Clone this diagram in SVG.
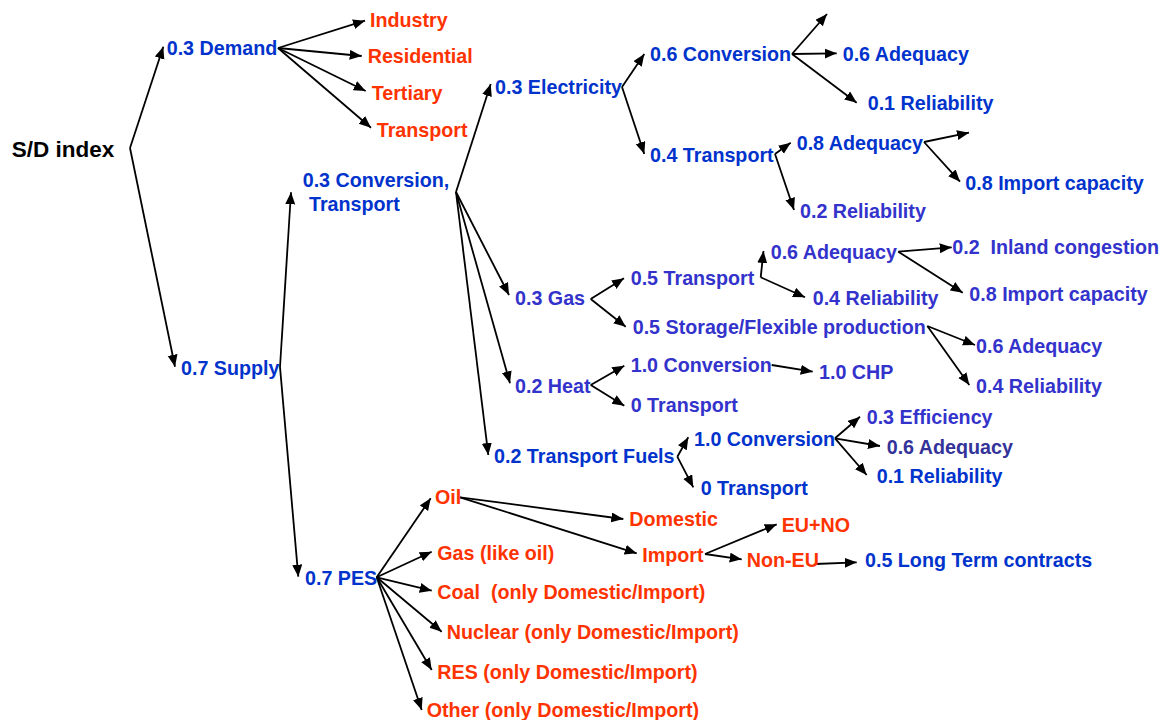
<svg xmlns="http://www.w3.org/2000/svg" width="1163" height="720" viewBox="0 0 1163 720">
<style>
text{font-family:"Liberation Sans",Arial,sans-serif;font-weight:bold;font-size:19.7px;white-space:pre}
.o{fill:#FF3300}.b{fill:#0033CC}.p{fill:#3333CC}.d{fill:#333399}
.k{fill:#000;font-size:22.5px}
#connectors line{stroke:#000;stroke-width:1.8;marker-end:url(#ah)}
</style>
<defs>
<marker id="ah" markerUnits="userSpaceOnUse" markerWidth="13" markerHeight="11" refX="12" refY="5" orient="auto">
<path d="M0,0 L12,5 L0,10 z" fill="#000"/>
</marker>
</defs>
<rect width="1163" height="720" fill="#fff"/>
<g id="connectors">
<line x1="130" y1="148" x2="163.3" y2="46.7"/>
<line x1="130" y1="148" x2="175" y2="366.7"/>
<line x1="278" y1="48" x2="365" y2="20.7"/>
<line x1="278" y1="48" x2="361.7" y2="56"/>
<line x1="278" y1="48" x2="365.7" y2="91"/>
<line x1="278" y1="48" x2="371" y2="127.7"/>
<line x1="280" y1="367" x2="291" y2="192.3"/>
<line x1="280" y1="367" x2="298.3" y2="576.7"/>
<line x1="456" y1="192" x2="490.7" y2="84"/>
<line x1="456" y1="192" x2="509" y2="295"/>
<line x1="456" y1="192" x2="510" y2="383.3"/>
<line x1="456" y1="192" x2="488.3" y2="455"/>
<line x1="622" y1="87" x2="644.3" y2="54"/>
<line x1="622" y1="87" x2="644.3" y2="154"/>
<line x1="792" y1="54" x2="827" y2="14"/>
<line x1="792" y1="54" x2="836.7" y2="53.3"/>
<line x1="792" y1="54" x2="856.7" y2="102.7"/>
<line x1="775" y1="154" x2="790.7" y2="142.7"/>
<line x1="775" y1="154" x2="794" y2="210"/>
<line x1="924" y1="142" x2="969" y2="132.7"/>
<line x1="924" y1="142" x2="960" y2="181.7"/>
<line x1="590.7" y1="299" x2="624" y2="278.3"/>
<line x1="590.7" y1="299" x2="625.7" y2="326.7"/>
<line x1="760.7" y1="277.3" x2="763.5" y2="251"/>
<line x1="760.7" y1="277.3" x2="805" y2="297.3"/>
<line x1="898.3" y1="251.7" x2="951.7" y2="247.3"/>
<line x1="898.3" y1="251.7" x2="962.7" y2="292.7"/>
<line x1="927.3" y1="326" x2="975" y2="345"/>
<line x1="927.3" y1="326" x2="969.3" y2="385"/>
<line x1="590.7" y1="385" x2="624.3" y2="365.7"/>
<line x1="590.7" y1="385" x2="624.3" y2="405.7"/>
<line x1="771.7" y1="365" x2="812.7" y2="371.7"/>
<line x1="677.3" y1="456.7" x2="688.3" y2="437.3"/>
<line x1="677.3" y1="456.7" x2="693.3" y2="487.3"/>
<line x1="835" y1="438.3" x2="860" y2="416.7"/>
<line x1="835" y1="438.3" x2="880" y2="446"/>
<line x1="835" y1="438.3" x2="866.7" y2="475"/>
<line x1="376.7" y1="577.3" x2="430.7" y2="498.3"/>
<line x1="376.7" y1="577.3" x2="431.7" y2="551.7"/>
<line x1="376.7" y1="577.3" x2="431.7" y2="590.7"/>
<line x1="376.7" y1="577.3" x2="441.7" y2="631.7"/>
<line x1="376.7" y1="577.3" x2="431.7" y2="670"/>
<line x1="376.7" y1="577.3" x2="421.7" y2="710"/>
<line x1="460" y1="497.3" x2="623.3" y2="519"/>
<line x1="460" y1="497.3" x2="636.7" y2="553.3"/>
<line x1="705" y1="554" x2="776.7" y2="524.3"/>
<line x1="705" y1="554" x2="741.7" y2="559.3"/>
<line x1="815" y1="564" x2="856.7" y2="562.3"/>
</g>
<g id="n-sd"><text class="k" x="11.7" y="156.7">S/D index</text></g>
<g id="n-demand"><text class="b" x="166.7" y="55">0.3 Demand</text></g>
<g id="n-industry"><text class="o" x="370" y="27.3">Industry</text></g>
<g id="n-residential"><text class="o" x="367.7" y="63">Residential</text></g>
<g id="n-tertiary"><text class="o" x="371.7" y="100">Tertiary</text></g>
<g id="n-dtransport"><text class="o" x="376.7" y="136.7">Transport</text></g>
<g id="n-supply"><text class="b" x="181" y="374.7">0.7 Supply</text></g>
<g id="n-convtrans"><text class="b" x="302.7" y="186.7">0.3 Conversion,</text><text class="b" x="309" y="211">Transport</text></g>
<g id="n-elec"><text class="b" x="495" y="94.3">0.3 Electricity</text></g>
<g id="n-econv"><text class="b" x="650" y="61">0.6 Conversion</text></g>
<g id="n-eadeq"><text class="b" x="842.7" y="61">0.6 Adequacy</text></g>
<g id="n-erel"><text class="b" x="867.7" y="110">0.1 Reliability</text></g>
<g id="n-etrans"><text class="b" x="650" y="162.3">0.4 Transport</text></g>
<g id="n-etadeq"><text class="b" x="796.7" y="150">0.8 Adequacy</text></g>
<g id="n-etimp"><text class="b" x="965.3" y="190">0.8 Import capacity</text></g>
<g id="n-etrel"><text class="p" x="800" y="218.3">0.2 Reliability</text></g>
<g id="n-gas"><text class="p" x="515" y="305">0.3 Gas</text></g>
<g id="n-gtrans"><text class="p" x="630.7" y="285">0.5 Transport</text></g>
<g id="n-gadeq"><text class="p" x="770.7" y="259">0.6 Adequacy</text></g>
<g id="n-ginland"><text class="p" x="952.3" y="254.3">0.2  Inland congestion</text></g>
<g id="n-gimp"><text class="p" x="969.3" y="301">0.8 Import capacity</text></g>
<g id="n-grel"><text class="p" x="812.7" y="305">0.4 Reliability</text></g>
<g id="n-gstor"><text class="p" x="632.7" y="334.3">0.5 Storage/Flexible production</text></g>
<g id="n-gsadeq"><text class="p" x="976" y="353.3">0.6 Adequacy</text></g>
<g id="n-gsrel"><text class="p" x="976" y="393.3">0.4 Reliability</text></g>
<g id="n-heat"><text class="p" x="515" y="392.7">0.2 Heat</text></g>
<g id="n-hconv"><text class="p" x="630.7" y="372.3">1.0 Conversion</text></g>
<g id="n-hchp"><text class="p" x="819" y="379">1.0 CHP</text></g>
<g id="n-htrans"><text class="p" x="630.7" y="412.3">0 Transport</text></g>
<g id="n-tf"><text class="b" x="494" y="463.3">0.2 Transport Fuels</text></g>
<g id="n-tfconv"><text class="b" x="694" y="445.7">1.0 Conversion</text></g>
<g id="n-tfeff"><text class="p" x="866.7" y="424.3">0.3 Efficiency</text></g>
<g id="n-tfadeq"><text class="d" x="886.7" y="454">0.6 Adequacy</text></g>
<g id="n-tfrel"><text class="b" x="876.7" y="482.7">0.1 Reliability</text></g>
<g id="n-tftrans"><text class="b" x="700.7" y="495">0 Transport</text></g>
<g id="n-pes"><text class="b" x="305" y="585">0.7 PES</text></g>
<g id="n-oil"><text class="o" x="435" y="504.3">Oil</text></g>
<g id="n-domestic"><text class="o" x="629.3" y="526">Domestic</text></g>
<g id="n-import"><text class="o" x="642.3" y="561.7">Import</text></g>
<g id="n-euno"><text class="o" x="781.7" y="532.3">EU+NO</text></g>
<g id="n-noneu"><text class="o" x="746.7" y="566.7">Non-EU</text></g>
<g id="n-ltc"><text class="b" x="865" y="566.7">0.5 Long Term contracts</text></g>
<g id="n-pgas"><text class="o" x="437.3" y="560">Gas (like oil)</text></g>
<g id="n-coal"><text class="o" x="437.3" y="599.3">Coal  (only Domestic/Import)</text></g>
<g id="n-nuclear"><text class="o" x="446.7" y="639">Nuclear (only Domestic/Import)</text></g>
<g id="n-res"><text class="o" x="437.3" y="679">RES (only Domestic/Import)</text></g>
<g id="n-other"><text class="o" x="426.7" y="717.3">Other (only Domestic/Import)</text></g>
</svg>
